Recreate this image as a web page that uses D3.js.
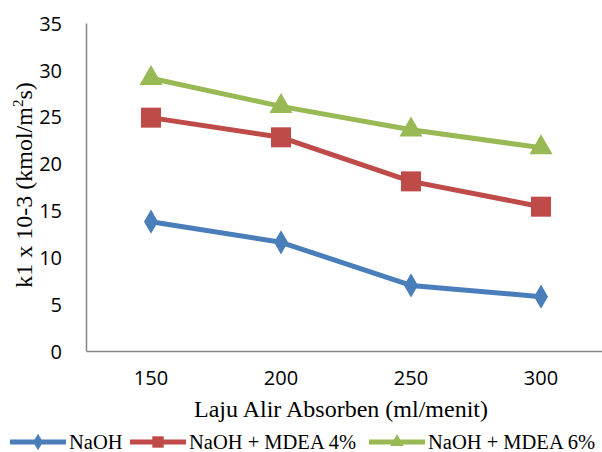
<!DOCTYPE html>
<html>
<head>
<meta charset="utf-8">
<script src="https://cdn.jsdelivr.net/npm/d3@7"></script>
<style>
  body { margin: 0; background: #fff; }
  svg { display: block; }
</style>
</head>
<body>
<svg id="chart" width="602" height="452"></svg>
<script>
// flow rate categories (ml/menit)
var categories = ["150", "200", "250", "300"];
var yTicks = [0, 5, 10, 15, 20, 25, 30, 35];

// k1 x 10-3 values per series
var naoh = [13.8, 11.6, 7.0, 5.8];
var mdea4 = [24.9, 22.8, 18.1, 15.4];
var mdea6 = [29.1, 26.1, 23.6, 21.7];

var seriesNames = ["NaOH", "NaOH + MDEA 4%", "NaOH + MDEA 6%"];
var seriesColors = ["#4A7EBB", "#BE4B48", "#98B954"];

var series = [
  {name: seriesNames[0], values: naoh, color: seriesColors[0], shape: d3.symbolDiamond},
  {name: seriesNames[1], values: mdea4, color: seriesColors[1], shape: d3.symbolSquare},
  {name: seriesNames[2], values: mdea6, color: seriesColors[2], shape: d3.symbolTriangle}
];

var serif = "'Liberation Serif', 'Times New Roman', Times, serif";
var sans = "'Open Sans', 'Liberation Sans', sans-serif";

var svg = d3.select("#chart");

var x = d3.scaleBand().domain(categories).range([86, 606]).padding(0);
var y = d3.scaleLinear().domain([0, 35]).range([351, 23]);

// axes
var yAxis = svg.append("g").attr("transform", "translate(86,0)")
  .call(d3.axisLeft(y).tickValues(yTicks).tickSize(0).tickPadding(24));
yAxis.select(".domain").attr("stroke", "#868686").attr("stroke-width", 1.5);
yAxis.selectAll(".tick text").attr("dy", "0.36em")
  .style("font-family", sans).style("font-size", "20px").attr("fill", "#000");

var xAxis = svg.append("g").attr("transform", "translate(0,351)")
  .call(d3.axisBottom(x).tickSize(0).tickPadding(20));
xAxis.select(".domain").attr("stroke", "#868686").attr("stroke-width", 1.5);
xAxis.selectAll(".tick text")
  .style("font-family", sans).style("font-size", "20px").attr("fill", "#000");

// lines
var line = d3.line()
  .x(function(d, i){ return x(categories[i]) + x.bandwidth() / 2; })
  .y(function(d){ return y(d); });

function markerSize(shape){
  return shape === d3.symbolDiamond ? 170 : shape === d3.symbolSquare ? 400 : 230;
}

series.forEach(function(s){
  svg.append("path")
    .attr("d", line(s.values))
    .attr("fill", "none")
    .attr("stroke", s.color)
    .attr("stroke-width", 5)
    .attr("stroke-linejoin", "round");

  svg.selectAll(null).data(s.values).enter().append("path")
    .attr("transform", function(d, i){
      return "translate(" + (x(categories[i]) + x.bandwidth() / 2) + "," + y(d) + ")";
    })
    .attr("d", d3.symbol().type(s.shape).size(markerSize(s.shape)))
    .attr("fill", s.color);
});

// axis titles
svg.append("text")
  .attr("x", 341).attr("y", 417)
  .attr("text-anchor", "middle")
  .style("font-family", serif)
  .style("font-size", "24px")
  .text("Laju Alir Absorben (ml/menit)");

var yt = svg.append("text")
  .attr("transform", "translate(32,185) rotate(-90)")
  .attr("text-anchor", "middle")
  .style("font-family", serif)
  .style("font-size", "24px");
yt.append("tspan").text("k1 x 10-3 (kmol/m");
yt.append("tspan").attr("dy", -9).style("font-size", "15px").text("2");
yt.append("tspan").attr("dy", 9).text("s)");

// legend
var legendX = [10, 130, 369];
var lg = svg.selectAll(".leg").data(series).enter().append("g")
  .attr("class", "leg")
  .attr("transform", function(d, i){ return "translate(" + legendX[i] + ",442)"; });

lg.append("line").attr("x1", 0).attr("x2", 56)
  .attr("stroke", function(d){ return d.color; })
  .attr("stroke-width", 5);
lg.append("path")
  .attr("transform", "translate(28,0)")
  .attr("d", function(d){
    return d3.symbol().type(d.shape).size(d.shape === d3.symbolSquare ? 130 : 80)();
  })
  .attr("fill", function(d){ return d.color; });
lg.append("text")
  .attr("x", 59).attr("y", 7)
  .style("font-family", serif)
  .style("font-size", "20.5px")
  .text(function(d){ return d.name; });
</script>
</body>
</html>
